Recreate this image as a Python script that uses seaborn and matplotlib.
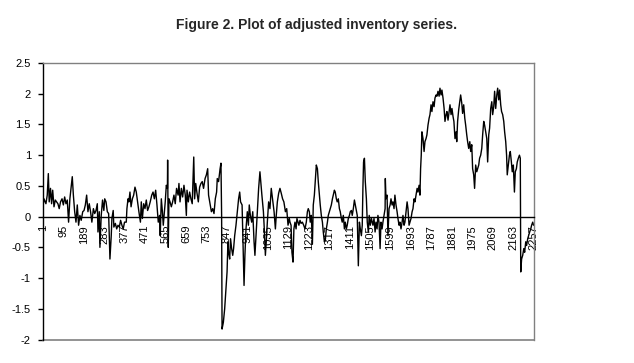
import numpy as np
import pandas as pd
import matplotlib
matplotlib.use("Agg")
import matplotlib.pyplot as plt
import seaborn as sns

# observation numbers / adjusted inventory values
obs_a = [1, 7, 16, 22, 27, 31, 37, 42, 47, 53,
         59, 65, 71, 77, 83, 90, 96, 102, 108, 114,
         120, 126, 132, 137, 142, 148, 154, 160, 166, 172,
         178, 185, 191, 197, 203, 209, 215, 221, 227, 234,
         240, 246, 252, 255, 261, 264, 270, 276, 282, 286,
         292, 298, 304, 310, 316, 319, 325, 328, 335, 341,
         347, 353, 359, 365, 371, 377]
inv_a = [0.13, 0.29, 0.21, 0.35, 0.70, 0.24, 0.46, 0.21, 0.43, 0.16,
         0.27, 0.24, 0.21, 0.13, 0.24, 0.29, 0.19, 0.32, 0.21, 0.27,
         -0.09, 0.29, 0.48, 0.65, 0.35, 0.08, -0.09, 0.19, -0.14, 0.02,
         -0.06, 0.08, 0.10, 0.19, 0.35, 0.08, 0.21, 0.08, -0.09, 0.13,
         0.05, 0.10, 0.21, -0.25, 0.08, -0.50, 0.02, 0.27, 0.10, 0.29,
         0.24, 0.08, 0.05, -0.69, -0.31, -0.03, 0.10, -0.17, -0.11, -0.20,
         -0.14, -0.17, -0.06, -0.14, -0.20, -0.09]

obs_b = [385, 388, 393, 397, 402, 407, 413, 419, 425, 431,
         437, 443, 450, 454, 459, 465, 471, 477, 483, 489,
         495, 502, 508, 514, 520, 526, 532, 538, 541, 546,
         551, 555, 560, 564, 569, 574, 575, 578, 581, 586,
         592, 598, 604, 610, 616, 623, 627, 632, 638, 644,
         650, 656, 661, 664, 670, 676, 682, 688, 695, 699,
         704, 710, 716, 722, 728, 734, 740, 747, 753, 759]
inv_b = [-0.09, 0.13, 0.29, 0.24, 0.40, 0.16, 0.29, 0.35, 0.48, 0.40,
         0.24, 0.08, -0.09, 0.24, -0.03, 0.21, 0.13, 0.27, 0.10, 0.16,
         0.24, 0.35, 0.40, 0.29, 0.43, 0.19, -0.09, 0.02, -0.31, 0.29,
         0.08, -0.14, 0.08, 0.24, 0.51, 0.46, 0.92, -0.50, 0.29, 0.24,
         0.16, 0.24, 0.35, 0.21, 0.46, 0.35, 0.54, 0.24, 0.46, 0.32,
         0.51, 0.35, 0.02, 0.43, 0.24, 0.40, 0.29, 0.21, 0.97, 0.29,
         0.54, 0.38, 0.24, 0.48, 0.54, 0.57, 0.46, 0.62, 0.68, 0.78]

obs_c = [763, 770, 776, 782, 788, 794, 800, 803, 809, 816,
         820, 823, 825, 831, 837, 843, 848, 852, 855, 860,
         864, 869, 874, 878, 883, 889, 895, 901, 906, 910,
         917, 921, 926, 930, 935, 941, 946, 950, 955, 961,
         966, 972, 976, 981, 987, 993, 999, 1004, 1008, 1015,
         1019, 1024, 1028, 1033, 1039, 1045, 1051, 1057, 1064, 1070,
         1074, 1079, 1085, 1091, 1097, 1103, 1109, 1116, 1122, 1128,
         1134]
inv_c = [0.35, 0.21, 0.08, 0.13, 0.05, 0.29, 0.40, 0.62, 0.57, 0.78,
         0.87, 0.02, -1.83, -1.72, -1.50, -1.18, -0.90, -0.41, -0.58, -0.69,
         -0.36, -0.52, -0.63, -0.52, -0.31, -0.14, 0.08, 0.29, 0.40, 0.24,
         0.19, -0.41, -1.12, -0.63, -0.20, 0.08, -0.14, 0.19, 0.02, -0.09,
         0.08, -0.41, -0.63, -0.31, 0.08, 0.46, 0.73, 0.51, 0.35, 0.08,
         -0.20, -0.63, -0.41, -0.09, 0.24, 0.13, 0.46, 0.29, 0.08, -0.20,
         0.02, 0.24, 0.38, 0.46, 0.38, 0.29, 0.24, 0.08, 0.13, -0.14,
         -0.03]

obs_d = [1137, 1142, 1146, 1151, 1155, 1160, 1165, 1169, 1174, 1178,
         1183, 1188, 1194, 1200, 1206, 1212, 1217, 1221, 1226, 1230,
         1235, 1240, 1244, 1249, 1253, 1258, 1263, 1267, 1272, 1276,
         1281, 1286, 1290, 1295, 1299, 1304, 1309, 1313, 1318, 1322,
         1327, 1332, 1336, 1341, 1345, 1350, 1354, 1359, 1364, 1368,
         1373, 1377, 1382, 1387, 1391, 1396, 1400, 1405, 1410, 1414,
         1419, 1423, 1428, 1433, 1437, 1442, 1446, 1451, 1456, 1460,
         1465, 1469, 1472, 1475, 1479, 1483, 1488, 1492, 1497, 1501,
         1506, 1511]
inv_d = [-0.09, -0.14, -0.58, -0.74, -0.20, -0.09, -0.20, -0.03, -0.09, -0.14,
         -0.06, -0.11, -0.09, -0.14, -0.20, -0.09, 0.08, 0.13, 0.08, -0.09,
         0.02, -0.45, 0.19, 0.35, 0.57, 0.84, 0.78, 0.57, 0.35, 0.19,
         0.02, -0.09, -0.25, -0.41, -0.39, -0.20, -0.09, 0.02, 0.08, 0.13,
         0.19, 0.29, 0.35, 0.43, 0.40, 0.29, 0.24, 0.29, 0.13, 0.08,
         -0.03, -0.09, 0.02, -0.20, -0.09, -0.20, -0.14, -0.03, 0.02, 0.08,
         0.10, 0.02, 0.13, 0.27, 0.19, 0.08, 0.02, -0.80, -0.09, -0.20,
         -0.31, -0.14, 0.46, 0.89, 0.95, 0.57, 0.29, -0.09, -0.25, 0.02,
         -0.14, -0.03]

obs_e = [1518, 1523, 1528, 1532, 1537, 1541, 1546, 1551, 1555, 1560,
         1564, 1569, 1574, 1575, 1578, 1583, 1587, 1592, 1597, 1601,
         1606, 1610, 1615, 1619, 1624, 1629, 1633, 1638, 1642, 1647,
         1652, 1656, 1661, 1665, 1670, 1675, 1679, 1684, 1688, 1693,
         1698, 1702, 1707, 1711, 1716, 1721, 1725, 1730, 1734, 1737,
         1740, 1743, 1748, 1753, 1757, 1762, 1766, 1771, 1776, 1780,
         1785, 1789, 1794, 1799, 1803, 1808, 1812, 1817, 1822, 1826,
         1831, 1835, 1840, 1845, 1849, 1854, 1858, 1863, 1867, 1872,
         1877, 1881, 1886, 1890, 1895, 1900]
inv_e = [-0.14, -0.03, -0.25, -0.09, -0.20, 0.02, -0.09, -0.52, -0.09, -0.20,
         -0.09, 0.02, 0.13, 0.62, 0.29, 0.35, -0.31, 0.13, 0.19, 0.29,
         0.19, 0.24, 0.13, 0.35, 0.19, 0.08, -0.03, -0.14, -0.09, -0.20,
         -0.09, 0.02, -0.14, -0.09, 0.08, 0.24, 0.13, -0.14, -0.09, -0.03,
         0.08, 0.13, 0.29, 0.24, 0.35, 0.46, 0.40, 0.51, 0.35, 0.78,
         1.00, 1.38, 1.27, 1.06, 1.22, 1.27, 1.33, 1.49, 1.60, 1.66,
         1.82, 1.71, 1.87, 1.79, 1.93, 1.98, 1.96, 2.04, 1.96, 2.09,
         1.98, 2.06, 1.93, 1.76, 1.55, 1.66, 1.71, 1.57, 1.68, 1.82,
         1.66, 1.76, 1.63, 1.55, 1.27, 1.38]

obs_f = [1903, 1907, 1912, 1917, 1921, 1926, 1930, 1935, 1940, 1944,
         1949, 1953, 1958, 1963, 1967, 1972, 1976, 1981, 1985, 1990,
         1995, 1999, 2004, 2008, 2013, 2018, 2022, 2027, 2031, 2036,
         2041, 2045, 2050, 2054, 2059, 2064, 2068, 2073, 2077, 2082,
         2087, 2091, 2096, 2100, 2105, 2109, 2114, 2119, 2123, 2128,
         2132, 2135, 2140, 2145, 2149, 2154, 2158, 2163, 2168, 2172,
         2177, 2181, 2186, 2191, 2195, 2197, 2201, 2206, 2211, 2215,
         2220, 2224, 2229, 2233, 2238, 2243, 2247, 2252, 2256]
inv_f = [1.22, 1.55, 1.74, 1.87, 1.98, 1.85, 1.68, 1.82, 1.60, 1.49,
         1.33, 1.22, 1.11, 1.22, 1.06, 1.17, 0.78, 0.68, 0.46, 0.84,
         0.73, 0.78, 0.84, 0.95, 1.00, 1.11, 1.33, 1.55, 1.49, 1.38,
         1.27, 0.89, 1.33, 1.44, 1.76, 1.87, 1.66, 1.79, 2.04, 1.76,
         1.98, 2.09, 1.90, 2.06, 1.82, 1.71, 1.66, 1.55, 1.38, 1.22,
         1.00, 0.68, 0.84, 1.00, 1.06, 0.89, 0.73, 0.84, 0.40, 0.73,
         0.78, 0.89, 0.95, 1.00, 0.95, -0.90, -0.69, -0.63, -0.52, -0.58,
         -0.41, -0.47, -0.36, -0.31, -0.25, -0.20, -0.14, -0.09, -0.14]

x_tick_labels = ['1', '95', '189', '283', '377', '471', '565', '659', '753',
                 '847', '941', '1035', '1129', '1223', '1317', '1411', '1505',
                 '1599', '1693', '1787', '1881', '1975', '2069', '2163', '2257']
y_tick_labels = ['-2', '-1.5', '-1', '-0.5', '0', '0.5', '1', '1.5', '2', '2.5']

obs = obs_a + obs_b + obs_c + obs_d + obs_e + obs_f
inv = inv_a + inv_b + inv_c + inv_d + inv_e + inv_f
df = pd.DataFrame({'Observation': obs, 'Inventory': inv})

sns.set_style("white")
plt.rcParams['font.family'] = ['Liberation Sans', 'DejaVu Sans']

fig = plt.figure(figsize=(6.34, 3.63), dpi=100)
ax = fig.add_axes([0.0673, 0.0647, 0.775, 0.7617])

sns.lineplot(data=df, x='Observation', y='Inventory', color='black',
             linewidth=1.0, estimator=None, ax=ax)

ax.set_xlim(1, 2258)
ax.set_ylim(-2, 2.5)
ax.set(xlabel='', ylabel='')

# category axis crosses at zero, grey plot-area border around the rest
ax.spines['bottom'].set_position(('data', 0))
ax.spines['bottom'].set_color('black')
ax.spines['bottom'].set_linewidth(1)
ax.spines['left'].set_color('black')
ax.spines['left'].set_linewidth(1)
for side in ['top', 'right']:
    ax.spines[side].set_color('#808080')
    ax.spines[side].set_linewidth(1)
ax.plot([0, 1], [0, 0], transform=ax.transAxes, color='#808080',
        linewidth=1.2, clip_on=False)

ax.set_xticks([int(t) for t in x_tick_labels])
ax.set_xticklabels(x_tick_labels)
ax.set_yticks([float(t) for t in y_tick_labels])
ax.set_yticklabels(y_tick_labels)

ax.tick_params(axis='x', length=0, pad=6, labelsize=8, colors='black',
               labelrotation=90)
ax.tick_params(axis='y', left=True, direction='out', length=3.5, width=1,
               pad=5, labelsize=8, colors='black')

fig.text(0.5, 0.931, 'Figure 2. Plot of adjusted inventory series.',
         ha='center', va='center', fontsize=10, fontweight='bold')

fig.savefig('out.png', dpi=100)
